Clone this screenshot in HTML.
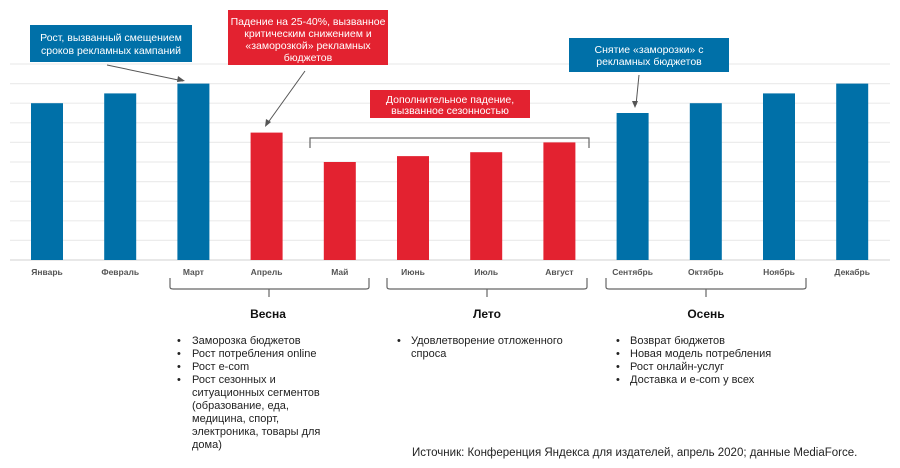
<!DOCTYPE html>
<html><head><meta charset="utf-8">
<style>
body{margin:0;background:#fff;}
svg{display:block;font-family:"Liberation Sans","DejaVu Sans",sans-serif;}
</style></head><body>
<svg id="chart" width="900" height="468" viewBox="0 0 900 468">
<g id="grid"></g>
<g id="bars"></g>
<g id="xlabels"></g>

<g>
<rect x="30" y="25" width="162" height="37" fill="#0070a8"/>
<text x="111" y="41" fill="#fff" font-size="10.5" text-anchor="middle">Рост, вызванный смещением</text>
<text x="111" y="54" fill="#fff" font-size="10.5" text-anchor="middle">сроков рекламных кампаний</text>
<line x1="107" y1="65" x2="183" y2="81" stroke="#555" stroke-width="1"/>
<path d="M185 81 L178 76 L177 82 Z" fill="#555"/>
</g>
<g>
<rect x="228" y="10" width="160" height="55" fill="#e32230"/>
<text x="308" y="25" fill="#fff" font-size="10.5" text-anchor="middle">Падение на 25-40%, вызванное</text>
<text x="308" y="37" fill="#fff" font-size="10.5" text-anchor="middle">критическим снижением и</text>
<text x="308" y="49" fill="#fff" font-size="10.5" text-anchor="middle">«заморозкой» рекламных</text>
<text x="308" y="61" fill="#fff" font-size="10.5" text-anchor="middle">бюджетов</text>
<line x1="305" y1="71" x2="267" y2="124" stroke="#555" stroke-width="1"/>
<path d="M265 127 L266 119 L271 122 Z" fill="#555"/>
</g>
<g>
<rect x="370" y="90" width="160" height="28" fill="#e32230"/>
<text x="450" y="103" fill="#fff" font-size="10.5" text-anchor="middle">Дополнительное падение,</text>
<text x="450" y="114" fill="#fff" font-size="10.5" text-anchor="middle">вызванное сезонностью</text>
<path d="M310 148 L310 138 L589 138 L589 148" fill="none" stroke="#666" stroke-width="1.2"/>
</g>
<g>
<rect x="569" y="38" width="160" height="34" fill="#0070a8"/>
<text x="649" y="53" fill="#fff" font-size="10.5" text-anchor="middle">Снятие «заморозки» с</text>
<text x="649" y="65" fill="#fff" font-size="10.5" text-anchor="middle">рекламных бюджетов</text>
<line x1="639" y1="75" x2="636" y2="105" stroke="#555" stroke-width="1"/>
<path d="M635 108 L632 101 L638 101 Z" fill="#555"/>
</g>

<g fill="none" stroke="#666" stroke-width="1.2">
<path d="M170 278 L170 287 Q170 289 173 289 L366 289 Q369 289 369 287 L369 278 M269 289 L269 297"/>
<path d="M387 278 L387 287 Q387 289 390 289 L584 289 Q587 289 587 287 L587 278 M487 289 L487 297"/>
<path d="M606 278 L606 287 Q606 289 609 289 L803 289 Q806 289 806 287 L806 278 M706 289 L706 297"/>
</g>
<g font-size="12" font-weight="bold" fill="#111" text-anchor="middle">
<text x="268" y="318">Весна</text>
<text x="487" y="318">Лето</text>
<text x="706" y="318">Осень</text>
</g>
<g font-size="11" fill="#222">
<text x="177" y="344">•</text><text x="192" y="344">Заморозка бюджетов</text>
<text x="177" y="357">•</text><text x="192" y="357">Рост потребления online</text>
<text x="177" y="370">•</text><text x="192" y="370">Рост e-com</text>
<text x="177" y="383">•</text><text x="192" y="383">Рост сезонных и</text>
<text x="192" y="396">ситуационных сегментов</text>
<text x="192" y="409">(образование, еда,</text>
<text x="192" y="422">медицина, спорт,</text>
<text x="192" y="435">электроника, товары для</text>
<text x="192" y="448">дома)</text>
</g>
<g font-size="11" fill="#222">
<text x="397" y="344">•</text><text x="411" y="344">Удовлетворение отложенного</text>
<text x="411" y="357">спроса</text>
</g>
<g font-size="11" fill="#222">
<text x="616" y="344">•</text><text x="630" y="344">Возврат бюджетов</text>
<text x="616" y="357">•</text><text x="630" y="357">Новая модель потребления</text>
<text x="616" y="370">•</text><text x="630" y="370">Рост онлайн-услуг</text>
<text x="616" y="383">•</text><text x="630" y="383">Доставка и e-com у всех</text>
</g>
<text x="412" y="456" font-size="11.5" fill="#222">Источник: Конференция Яндекса для издателей, апрель 2020; данные MediaForce.</text>
</svg>
<script>
const months = ["Январь","Февраль","Март","Апрель","Май","Июнь","Июль","Август","Сентябрь","Октябрь","Ноябрь","Декабрь"];
const values = [8, 8.5, 9, 6.5, 5, 5.3, 5.5, 6, 7.5, 8, 8.5, 9];
const colorGroup = ["blue","blue","blue","red","red","red","red","red","blue","blue","blue","blue"];
const gridTicks = [0,1,2,3,4,5,6,7,8,9,10];

const NS = "http://www.w3.org/2000/svg";
const baseY = 260, unit = 19.6, x0 = 47, step = 73.2, bw = 32;
const yScale = v => baseY - v * unit;
const xScale = i => x0 + i * step;
const colors = {blue:"#0070a8", red:"#e32230"};

const grid = document.getElementById("grid");
gridTicks.forEach(t => {
  const l = document.createElementNS(NS, "line");
  
  
  l.setAttribute("x1", 10); l.setAttribute("x2", 890);
  l.setAttribute("y1", yScale(t)); l.setAttribute("y2", yScale(t));
  l.setAttribute("stroke", t === 0 ? "#d9d9d9" : "#ececec");
  l.setAttribute("stroke-width", 1.2);
  grid.appendChild(l);
});
const bars = document.getElementById("bars");
const xl = document.getElementById("xlabels");
values.forEach((v, i) => {
  const r = document.createElementNS(NS, "rect");
  
  
  r.setAttribute("x", xScale(i) - bw / 2);
  r.setAttribute("y", yScale(v));
  r.setAttribute("width", bw);
  r.setAttribute("height", baseY - yScale(v));
  r.setAttribute("fill", colors[colorGroup[i]]);
  bars.appendChild(r);
  const t = document.createElementNS(NS, "text");
  
  
  t.setAttribute("x", xScale(i)); t.setAttribute("y", 275);
  t.setAttribute("text-anchor", "middle");
  t.setAttribute("font-size", "8.5"); t.setAttribute("font-weight", "bold");
  t.setAttribute("fill", "#555");
  t.textContent = months[i];
  xl.appendChild(t);
});
</script>
</body></html>
